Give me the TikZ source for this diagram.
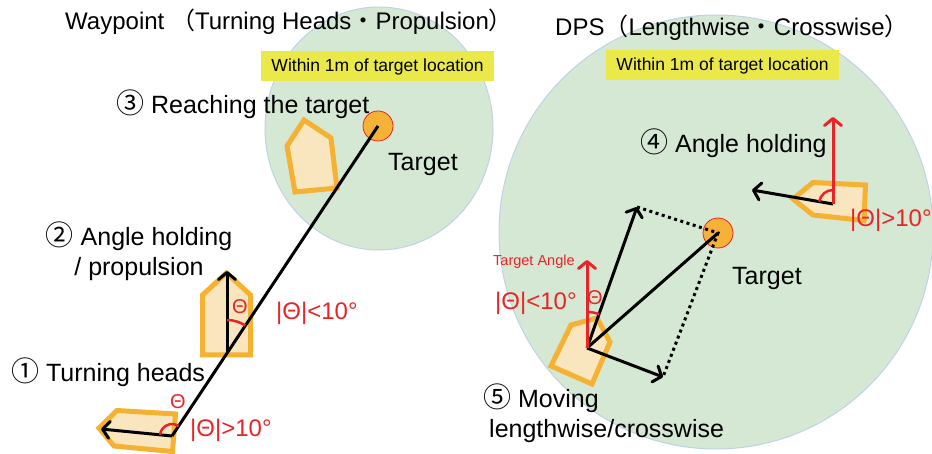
\documentclass[tikz,border=0pt]{standalone}
\usepackage{fontspec}
\setmainfont{Liberation Sans}
\newfontfamily\cjk{Noto Sans CJK JP}
\usetikzlibrary{arrows.meta,calc}
\definecolor{zone-green}{RGB}{213,232,212}
\definecolor{zone-edge}{RGB}{192,210,232}
\definecolor{note-yellow}{RGB}{235,232,74}
\definecolor{boat-orange}{RGB}{245,177,50}
\definecolor{boat-fill}{RGB}{249,230,190}
\definecolor{tgt-orange}{RGB}{245,178,55}
\definecolor{sig-red}{RGB}{236,35,38}
\newcommand{\bigtxt}{\fontsize{25}{30}\selectfont}
\newcommand{\cj}[1]{{\cjk #1}}
\newcommand{\cnum}[1]{{\cjk\fontsize{28}{30}\selectfont #1}}

\begin{document}
\begin{tikzpicture}[x=1pt, y=-1pt,
    zone/.style={fill=zone-green, draw=zone-edge, line width=1pt},
    note/.style={fill=note-yellow, minimum width=233pt, minimum height=30pt,
      inner sep=0pt, font=\fontsize{17.5}{20}\selectfont},
    lbl/.style={inner sep=0pt, font=\bigtxt},
    redlbl/.style={inner sep=0pt, text=sig-red, font=\fontsize{24}{28}\selectfont},
    theta/.style={inner sep=0pt, text=sig-red, font=\fontsize{20}{24}\selectfont},
    boat/.style={draw=boat-orange, fill=boat-fill, line width=5pt, line join=miter},
    tgt/.style={circle, fill=tgt-orange, draw=sig-red, line width=0.8pt,
      minimum size=30pt, inner sep=0pt},
    ln/.style={line width=3pt},
    arr/.style={line width=3pt, -{Straight Barb[length=7pt,width=17pt,round]}},
    redarr/.style={arr, sig-red},
    dotln/.style={line width=3pt, dash pattern=on 3pt off 3.5pt},
    anglearc/.style={sig-red, line width=2.5pt}
  ]
  \useasboundingbox (0,0) rectangle (932,454);
  \fill[white] (0,0) rectangle (932,454);

  \draw[zone] (379,128.5) ellipse[x radius=114pt, y radius=121.5pt];
  \draw[zone] (716,232) circle[radius=217pt];
  \node[note] (noteA) at (377.5,66.5) {Within 1m of target location};
  \node[note] (noteB) at (722.5,65.5) {Within 1m of target location};

  \node[lbl, anchor=west, font=\fontsize{24}{28}\selectfont] (titleA) at (65,22)
    {Waypoint \cj{（}Turning Heads\cj{・}Propulsion\cj{）}};
  \node[lbl, anchor=west, font=\fontsize{24}{28}\selectfont] (titleB) at (555,28)
    {DPS\cj{（}Lengthwise\cj{・}Crosswise\cj{）}};

  \draw[boat] (99,428) -- (117,410.5) -- (175.5,414) -- (172.5,451.5) -- (114,446) -- cycle;
  \draw[boat] (226.5,273) -- (250.5,295) -- (250.5,355) -- (202.5,355) -- (202.5,295) -- cycle;
  \draw[boat] (304,120) -- (331,138) -- (337,188) -- (295,192) -- (287,146) -- cycle;
  \draw[boat] (793,199) -- (813,182.5) -- (865.5,185) -- (864,220.5) -- (813,215) -- cycle;
  \draw[boat] (571,325) -- (597,318) -- (610,342) -- (592,384) -- (551,366) -- cycle;

  \node[tgt] (tgtA) at (378,126) {};
  \node[tgt] (tgtB) at (718,233) {};

  \coordinate (pivA) at (172,436);
  \coordinate (headA) at (101,429);
  \coordinate (pivB) at (227,353);
  \coordinate (headB) at (227,271);
  \coordinate (pivD) at (833,204);
  \coordinate (headD) at (752,190);
  \coordinate (aimD) at (833,117);
  \coordinate (pivE) at (587,348);
  \coordinate (aimE) at (587,260);
  \coordinate (fwdE) at (637,207);
  \coordinate (sideE) at (663,377);

  \draw[ln] (pivA) -- (tgtA.center);
  \draw[arr] (pivA) -- (headA);
  \draw[arr] (pivB) -- (headB);
  \draw[anglearc] ($(pivA)+(56.3:12pt)$) arc[start angle=56.3, end angle=174.3, radius=12pt];
  \draw[anglearc] ($(pivB)+(56.3:33pt)$) arc[start angle=56.3, end angle=90, radius=33pt];

  \draw[dotln] (fwdE) -- (tgtB.center) -- (sideE);
  \draw[ln] (pivE) -- (tgtB.center);
  \draw[arr] (pivE) -- (fwdE);
  \draw[arr] (pivE) -- (sideE);
  \draw[redarr] (pivE) -- (aimE);
  \draw[anglearc] ($(pivE)+(70.5:36pt)$) arc[start angle=70.5, end angle=90, radius=36pt];

  \draw[arr] (pivD) -- (headD);
  \draw[redarr] (pivD) -- (aimD);
  \draw[anglearc] ($(pivD)+(90:14pt)$) arc[start angle=90, end angle=170, radius=14pt];

  \node[lbl, anchor=west] (stepC) at (116,104) {\cnum{③} Reaching the target};
  \node[lbl, anchor=west] (tgtlblA) at (388,164) {Target};
  \node[lbl, align=center] (stepB) at (139,251.5) {\cnum{②} Angle holding\\/ propulsion};
  \node[lbl, anchor=west] (stepA) at (11,372) {\cnum{①} Turning heads};
  \node[lbl, anchor=west] (stepD) at (640,143) {\cnum{④} Angle holding};
  \node[lbl, anchor=west] (tgtlblB) at (732,278) {Target};
  \node[lbl, align=left, anchor=west] (stepE) at (483,413.5)
    {\cnum{⑤} Moving\\\hspace*{6pt}lengthwise/crosswise};

  \node[theta] (thA) at (178,402) {Θ};
  \node[theta] (thB) at (240,307) {Θ};
  \node[theta] (thE) at (595,298) {Θ};
  \node[redlbl, anchor=west] (limA) at (190,430) {|Θ|>10°};
  \node[redlbl, anchor=west] (limB) at (276,313) {|Θ|<10°};
  \node[redlbl, anchor=west] (limD) at (850,220) {|Θ|>10°};
  \node[redlbl, anchor=west] (limE) at (495,303) {|Θ|<10°};
  \node[inner sep=0pt, text=sig-red, font=\fontsize{14.5}{17}\selectfont, anchor=west]
    (aimlbl) at (493,262) {Target Angle};
\end{tikzpicture}
\end{document}
